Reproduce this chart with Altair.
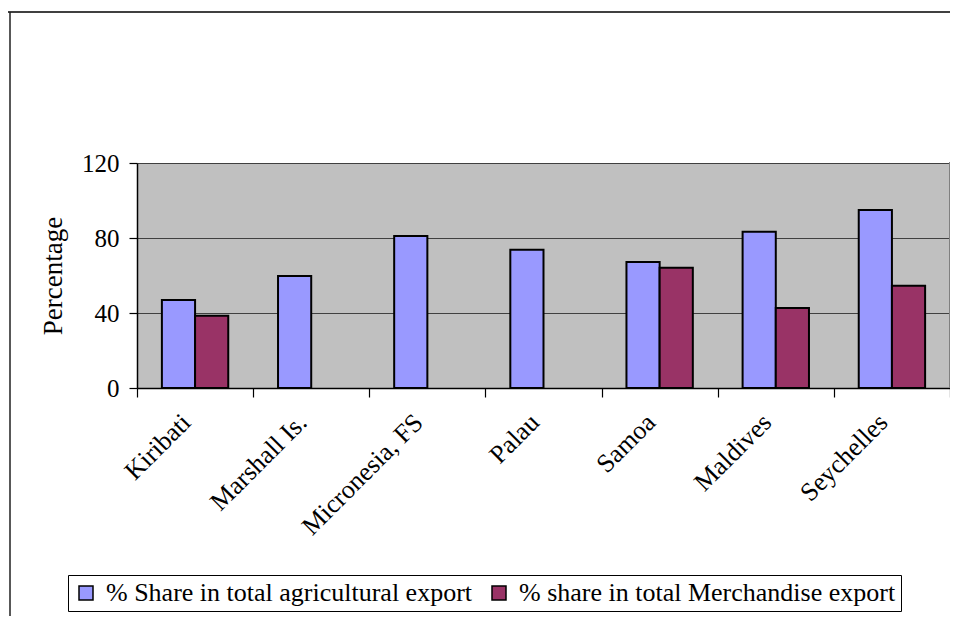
import altair as alt
import pandas as pd

countries = ["Kiribati", "Marshall Is.", "Micronesia, FS", "Palau", "Samoa", "Maldives", "Seychelles"]
series = ["% Share in total agricultural export", "% share in total Merchandise export"]
agri = [46.9, 59.7, 81.1, 73.8, 67.2, 83.4, 94.9]
merch = [38.6, None, None, None, 64.2, 42.7, 54.6]
colors = ["#9999FF", "#993366"]
y_ticks = [0, 40, 80, 120]

rows = []
for c, a, m in zip(countries, agri, merch):
    rows.append({"country": c, "series": series[0], "value": a})
    if m is not None:
        rows.append({"country": c, "series": series[1], "value": m})
df = pd.DataFrame(rows)

FONT = "Liberation Serif"
W, H = 813, 225

bars = alt.Chart(df).mark_bar(stroke="black", strokeWidth=2).encode(
    x=alt.X(
        "country:N",
        sort=countries,
        scale=alt.Scale(paddingInner=0, paddingOuter=0),
        axis=alt.Axis(
            title=None, labelAngle=-45, labelAlign="right", labelBaseline="middle",
            labelFont=FONT, labelFontSize=26, labelColor="black", labelPadding=21,
            labelOffset=-9,
            tickBand="extent", tickColor="black", tickSize=9, tickWidth=1.2,
            domainColor="black", domainWidth=1.5, grid=False,
        ),
    ),
    xOffset=alt.XOffset("series:N", sort=series,
                        scale=alt.Scale(domain=series, paddingInner=0, paddingOuter=0.75)),
    y=alt.Y(
        "value:Q",
        scale=alt.Scale(domain=[0, 120]),
        axis=alt.Axis(
            values=y_ticks, title="Percentage", titleFont=FONT, titleFontSize=27,
            titleFontWeight="normal", titleColor="black", titlePadding=14,
            labelFont=FONT, labelFontSize=25, labelColor="black", labelPadding=10,
            tickColor="black", tickSize=8, tickWidth=1.2,
            domainColor="black", domainWidth=1.5,
            grid=True, gridColor="#404040", gridWidth=1.2,
        ),
    ),
    color=alt.Color(
        "series:N",
        sort=series,
        scale=alt.Scale(domain=series, range=colors),
        legend=alt.Legend(
            title=None, orient="none", legendX=-69, legendY=412, direction="horizontal",
            strokeColor="black", fillColor="white", padding=5,
            symbolType="square", symbolSize=196, symbolStrokeColor="black",
            symbolStrokeWidth=1.5, symbolOpacity=1,
            labelFont=FONT, labelFontSize=26, labelColor="black", labelOffset=7,
            columnPadding=13, labelLimit=600,
        ),
    ),
)

frame = pd.DataFrame({"k": [0]})
top_line = alt.Chart(frame).mark_rule(color="#404040", strokeWidth=2).encode(
    x=alt.value(-129), x2=alt.value(830), y=alt.value(-151)
)
left_line = alt.Chart(frame).mark_rule(color="#202020", strokeWidth=1.5).encode(
    x=alt.value(-127), y=alt.value(-151), y2=alt.value(465)
)
right_wall = alt.Chart(frame).mark_rule(color="#808080", strokeWidth=2).encode(
    x=alt.value(W), y=alt.value(-1), y2=alt.value(H)
)

chart = alt.layer(bars, right_wall, top_line, left_line).properties(
    width=W, height=H,
    padding={"left": 129, "top": 155, "right": 0, "bottom": 228},
    autosize=alt.AutoSizeParams(type="none"),
    background="white",
).configure(font=FONT).configure_view(fill="#C0C0C0", stroke=None)

chart.save("out.html", embed_options={"renderer": "svg", "actions": False})
